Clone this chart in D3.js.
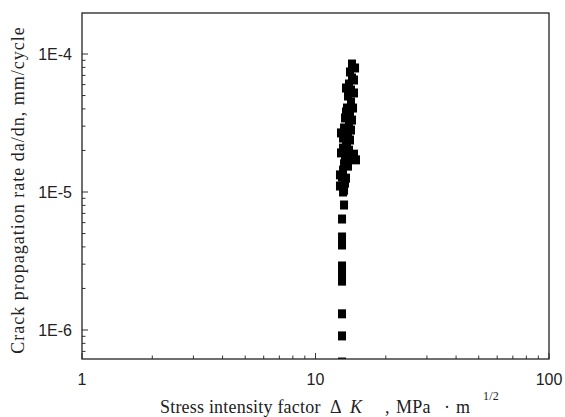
<!DOCTYPE html>
<html>
<head>
<meta charset="utf-8">
<script src="https://cdn.jsdelivr.net/npm/d3@7"></script>
<style>
  body { margin: 0; background: #fff; }
  svg { display: block; }
  .tick-label { font-family: "Liberation Sans", Arial, sans-serif; font-size: 16px; fill: #222; }
  .axis-title { font-family: "Liberation Serif", "Times New Roman", serif; font-size: 18px; fill: #222; }
</style>
</head>
<body>
<svg id="chart" width="565" height="417"></svg>
<script>
// stress intensity factor range, MPa*m^1/2
const deltaK = [
    14.33, 14.05, 14.33, 13.91, 14.19, 13.78, 14.19, 13.64, 14.05, 13.38,
    13.91, 13.25, 13.78, 13.12, 13.64, 13.12, 14.62, 14.33, 13.38, 13.25,
    13.12, 12.99, 13.38, 13.12, 13.25, 12.99, 12.99, 12.99, 12.99, 12.99,
    12.99, 12.99, 12.99, 12.99,
    14.77, 14.62, 13.51, 14.62, 14.48, 13.51, 14.33, 14.19, 12.86, 14.05,
    13.51, 13.91, 12.86, 14.91, 13.78, 12.73, 13.51, 12.73, 13.25
];
// crack growth rate da/dn, mm/cycle
const dadn = [
    8.46e-5, 7.41e-5, 6.70e-5, 6.06e-5, 5.48e-5, 4.96e-5, 4.49e-5, 4.06e-5, 3.67e-5, 3.44e-5,
    3.11e-5, 2.91e-5, 2.68e-5, 2.46e-5, 2.26e-5, 2.08e-5, 1.88e-5, 1.76e-5, 1.76e-5, 1.60e-5,
    1.44e-5, 1.28e-5, 1.16e-5, 1.00e-5, 8.05e-6, 6.37e-6, 4.72e-6, 4.13e-6, 2.91e-6, 2.59e-6,
    2.26e-6, 1.31e-6, 9.06e-7, 5.86e-7,
    7.92e-5, 6.48e-5, 5.67e-5, 5.22e-5, 4.06e-5, 3.80e-5, 3.32e-5, 2.81e-5, 2.68e-5, 2.38e-5,
    2.15e-5, 2.01e-5, 1.92e-5, 1.71e-5, 1.54e-5, 1.33e-5, 1.26e-5, 1.105e-5, 1.03e-5
];
const xTicks = [1, 10, 100];
const xTickLabels = ["1", "10", "100"];
const yTicks = [1e-6, 1e-5, 1e-4];
const yTickLabels = ["1E-6", "1E-5", "1E-4"];

const pLeft = 82, pRight = 549, pTop = 13, pBottom = 359;
const svg = d3.select("#chart");

const x = d3.scaleLog().domain([1, 100]).range([pLeft, pRight]);
// 1E-4 at y=54, 1E-6 at y=330
const y = d3.scaleLog().domain([1e-6, 1e-4]).range([330, 54]);

const minorX = [];
[1, 10].forEach(b => { for (let m = 2; m <= 9; m++) minorX.push(b * m); });
const minorY = [];
[1e-7, 1e-6, 1e-5, 1e-4].forEach(b => {
    for (let m = 2; m <= 9; m++) {
        const v = b * m, py = y(v);
        if (py > pTop && py < pBottom) minorY.push(v);
    }
});

svg.append("clipPath").attr("id", "plot")
    .append("rect")
    .attr("x", pLeft).attr("y", pTop)
    .attr("width", pRight - pLeft).attr("height", pBottom - pTop);

// data markers
svg.append("g")
    .attr("clip-path", "url(#plot)")
    .selectAll("rect")
    .data(deltaK.map((k, i) => ({ k, r: dadn[i] })))
    .enter()
    .append("rect")
    .attr("x", d => x(d.k) - 4)
    .attr("y", d => y(d.r) - 4.5)
    .attr("width", 8)
    .attr("height", 9)
    .attr("fill", "#000");

// ticks (inside)
const ticks = svg.append("g").attr("stroke", "#333").attr("stroke-width", 1);
ticks.selectAll("line.xmaj").data(xTicks).enter().append("line")
    .attr("x1", d => x(d)).attr("x2", d => x(d))
    .attr("y1", pBottom).attr("y2", pBottom - 6);
ticks.selectAll("line.xmin").data(minorX).enter().append("line")
    .attr("x1", d => x(d)).attr("x2", d => x(d))
    .attr("y1", pBottom).attr("y2", pBottom - 3.5);
ticks.selectAll("line.ymaj").data(yTicks).enter().append("line")
    .attr("x1", pLeft).attr("x2", pLeft + 6)
    .attr("y1", d => y(d)).attr("y2", d => y(d));
ticks.selectAll("line.ymin").data(minorY).enter().append("line")
    .attr("x1", pLeft).attr("x2", pLeft + 3.5)
    .attr("y1", d => y(d)).attr("y2", d => y(d));

// frame
svg.append("rect")
    .attr("x", pLeft).attr("y", pTop)
    .attr("width", pRight - pLeft).attr("height", pBottom - pTop)
    .attr("fill", "none")
    .attr("stroke", "#222")
    .attr("stroke-width", 1.3);

// tick labels
svg.selectAll("text.xl").data(xTicks).enter().append("text")
    .attr("class", "tick-label")
    .attr("x", d => x(d))
    .attr("y", 385)
    .attr("text-anchor", "middle")
    .text((d, i) => xTickLabels[i]);
svg.selectAll("text.yl").data(yTicks).enter().append("text")
    .attr("class", "tick-label")
    .attr("x", 72)
    .attr("y", d => y(d) + 6)
    .attr("text-anchor", "end")
    .text((d, i) => yTickLabels[i]);

// axis titles
svg.append("text")
    .attr("class", "axis-title")
    .attr("transform", "translate(24,190) rotate(-90)")
    .attr("text-anchor", "middle")
    .attr("letter-spacing", 1.0)
    .text("Crack propagation rate da/dn, mm/cycle");

const xt = svg.append("text")
    .attr("class", "axis-title")
    .attr("x", 160)
    .attr("y", 413)
    .attr("letter-spacing", 0.2);
xt.append("tspan").text("Stress intensity factor");
xt.append("tspan").attr("x", 330).text("\u0394");
xt.append("tspan").attr("x", 350).attr("font-style", "italic").text("K");
xt.append("tspan").attr("x", 385).text(",");
xt.append("tspan").attr("x", 396).text("MPa");
xt.append("tspan").attr("x", 444).text("\u00b7");
xt.append("tspan").attr("x", 456).text("m");
xt.append("tspan").attr("x", 483).attr("dy", -13).attr("font-size", 12).text("1/2");
</script>
</body>
</html>
